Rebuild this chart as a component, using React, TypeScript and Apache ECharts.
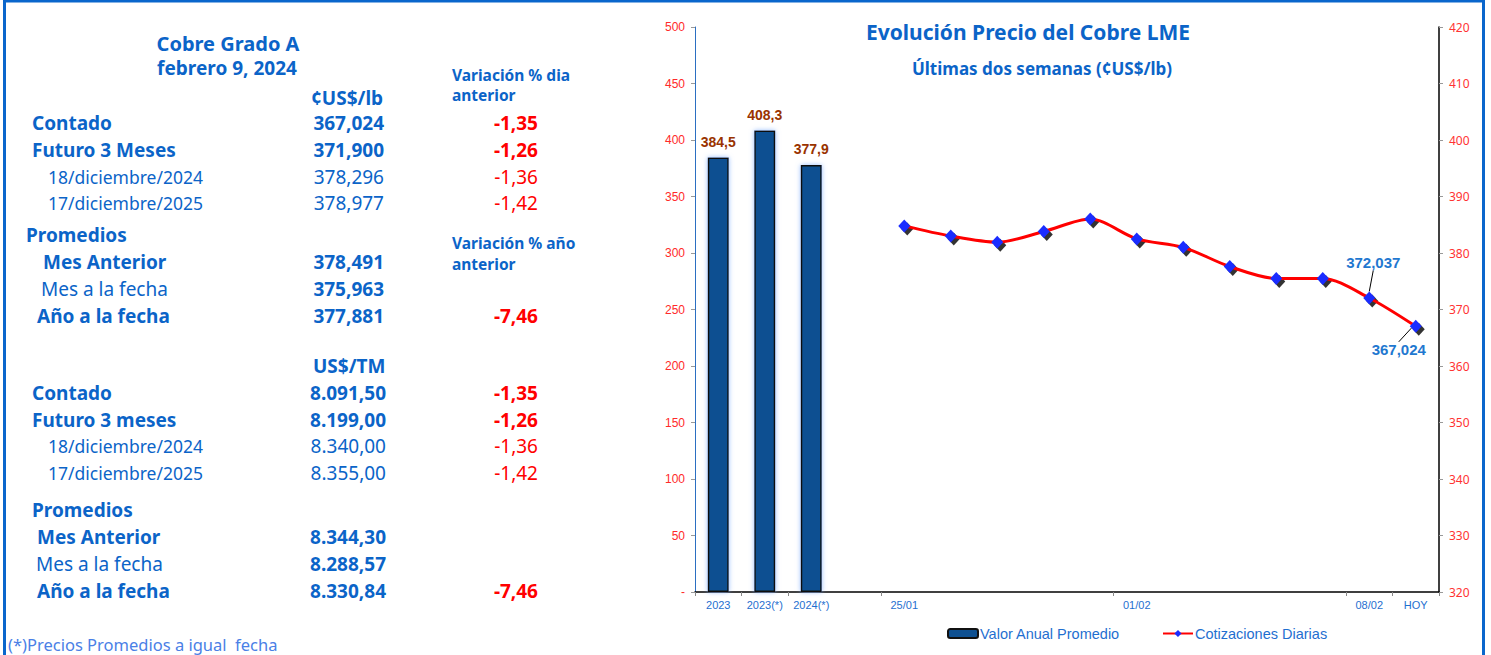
import React, { useEffect, useRef } from "react";
import * as echarts from "echarts";

// ---------- DATA ----------
const categories = ["2023", "2023(*)", "2024(*)", "", "25/01", "26/01", "29/01", "30/01", "31/01", "01/02", "02/02", "05/02", "06/02", "07/02", "08/02", "HOY"];
const shownLabelIdx = [0, 1, 2, 4, 9, 14, 15];
const annualAvg = [384.5, 408.3, 377.9];
const dailyQuotes = [384.8, 383.0, 381.9, 383.8, 386.0, 382.5, 381.0, 377.6, 375.5, 375.5, 372.037, 367.024];
const labeledPoints = [14, 15];
const leftTicks = { min: 0, max: 500, interval: 50 };
const rightTicks = { min: 320, max: 420, interval: 10 };

const headTitle = "Cobre Grado A";
const headDate = "febrero 9, 2024";
const unitLb = "¢US$/lb";
const unitTm = "US$/TM";
const varDayHeader = ["Variación % dia", "anterior"];
const varYearHeader = ["Variación % año", "anterior"];
const promediosLabel = "Promedios";

const lbLabels = ["Contado", "Futuro 3 Meses", "18/diciembre/2024", "17/diciembre/2025"];
const lbValues = ["367,024", "371,900", "378,296", "378,977"];
const lbChanges = ["-1,35", "-1,26", "-1,36", "-1,42"];
const lbAvgLabels = ["Mes Anterior", "Mes a la fecha", "Año a la fecha"];
const lbAvgValues = ["378,491", "375,963", "377,881"];
const lbAvgChanges = ["", "", "-7,46"];

const tmLabels = ["Contado", "Futuro 3 meses", "18/diciembre/2024", "17/diciembre/2025"];
const tmValues = ["8.091,50", "8.199,00", "8.340,00", "8.355,00"];
const tmChanges = ["-1,35", "-1,26", "-1,36", "-1,42"];
const tmAvgLabels = ["Mes Anterior", "Mes a la fecha", "Año a la fecha"];
const tmAvgValues = ["8.344,30", "8.288,57", "8.330,84"];
const tmAvgChanges = ["", "", "-7,46"];

const footnote = "(*)Precios Promedios a igual  fecha";
const chartTitle = "Evolución Precio del Cobre LME";
const chartSubtitle = "Últimas dos semanas (¢US$/lb)";
const seriesNames = ["Valor Anual Promedio", "Cotizaciones Diarias"];

// ---------- STYLE ----------
const BLUE = "#0b64c8";
const RED = "#ff0000";
const FF = '"Noto Sans", sans-serif';
const AR = '"Liberation Sans", Arial, sans-serif';

function txt(text: string, x: number, y: number, opts: { size?: number; bold?: boolean; color?: string; align?: string; family?: string } = {}) {
  const size = opts.size ?? 18;
  const weight = opts.bold ? "bold" : "normal";
  const align = opts.align ?? "left";
  return {
    type: "text",
    x,
    y,
    silent: true,
    style: {
      text,
      fill: opts.color ?? BLUE,
      font: `${weight} ${size}px ${opts.family ?? FF}`,
      textAlign: align,
      align,
      textVerticalAlign: "middle",
      verticalAlign: "middle",
    },
  };
}

function buildTable() {
  const g: any[] = [];
  g.push(txt(headTitle, 228, 43, { size: 20, bold: true, align: "center" }));
  g.push(txt(headDate, 227, 68, { size: 19, bold: true, align: "center" }));
  g.push(txt(unitLb, 311, 98, { size: 19, bold: true }));
  g.push(txt(varDayHeader[0], 452, 75, { size: 15.5, bold: true }));
  g.push(txt(varDayHeader[1], 452, 95, { size: 15.5, bold: true }));

  const upY = [123, 150, 177, 203];
  const upX = [32, 32, 48, 48];
  const upBold = [true, true, false, false];
  const rs = 17.5;
  lbLabels.forEach((l, i) => {
    const s = upBold[i] ? 19 : rs;
    g.push(txt(l, upX[i], upY[i], { size: s, bold: upBold[i] }));
    g.push(txt(lbValues[i], 384, upY[i], { size: 19, bold: upBold[i], align: "right" }));
    g.push(txt(lbChanges[i], 538, upY[i], { size: 19, bold: upBold[i], align: "right", color: RED }));
  });

  g.push(txt(promediosLabel, 26, 235, { size: 19, bold: true }));
  g.push(txt(varYearHeader[0], 452, 243, { size: 15.5, bold: true }));
  g.push(txt(varYearHeader[1], 452, 264, { size: 15.5, bold: true }));
  const avgY = [262, 289, 316];
  const avgX = [43, 41, 37];
  const avgBold = [true, false, true];
  lbAvgLabels.forEach((l, i) => {
    g.push(txt(l, avgX[i], avgY[i], { size: 19, bold: avgBold[i] }));
    g.push(txt(lbAvgValues[i], 384, avgY[i], { size: 19, bold: true, align: "right" }));
    if (lbAvgChanges[i]) g.push(txt(lbAvgChanges[i], 538, avgY[i], { size: 19, bold: true, align: "right", color: RED }));
  });

  g.push(txt(unitTm, 313, 366, { size: 19, bold: true }));
  const loY = [393, 420, 446, 473];
  tmLabels.forEach((l, i) => {
    const s = upBold[i] ? 19 : rs;
    g.push(txt(l, upX[i], loY[i], { size: s, bold: upBold[i] }));
    g.push(txt(tmValues[i], 386, loY[i], { size: 19, bold: upBold[i], align: "right" }));
    g.push(txt(tmChanges[i], 538, loY[i], { size: 19, bold: upBold[i], align: "right", color: RED }));
  });

  g.push(txt(promediosLabel, 32, 510, { size: 19, bold: true }));
  const lavgY = [537, 564, 591];
  const lavgX = [37, 36, 37];
  tmAvgLabels.forEach((l, i) => {
    g.push(txt(l, lavgX[i], lavgY[i], { size: 19, bold: avgBold[i] }));
    g.push(txt(tmAvgValues[i], 386, lavgY[i], { size: 19, bold: true, align: "right" }));
    if (tmAvgChanges[i]) g.push(txt(tmAvgChanges[i], 538, lavgY[i], { size: 19, bold: true, align: "right", color: RED }));
  });

  g.push(txt(footnote, 8, 644, { size: 16.5, color: "#4a80e6" }));

  g.push(txt(chartTitle, 1028, 32, { size: 21, bold: true, align: "center" }));
  g.push(txt(chartSubtitle, 1042, 68, { size: 17, bold: true, align: "center" }));

  g.push({
    type: "rect",
    silent: true,
    shape: { x: 4.5, y: 1, width: 1479, height: 700 },
    style: { fill: "none", stroke: "#0a66cc", lineWidth: 3 },
  });
  return g;
}

export default function App() {
  const ref = useRef<HTMLDivElement>(null);

  useEffect(() => {
    document.body.style.margin = "0";
    if (!ref.current) return;
    const chart = echarts.init(ref.current, null, { renderer: "svg" });

    const n = categories.length;
    const offset = n - dailyQuotes.length;
    const barData = categories.map((_, i) => (i < annualAvg.length ? annualAvg[i] : "-"));
    const lineRaw = categories.map((_, i) => (i >= offset ? dailyQuotes[i - offset] : "-"));
    const lineData = lineRaw.map((v, i) =>
      labeledPoints.includes(i)
        ? {
            value: v,
            label: {
              show: true,
              position: i === n - 1 ? "bottom" : "top",
            },
          }
        : v
    );

    chart.setOption({
      animation: false,
      backgroundColor: "#ffffff",
      graphic: buildTable(),
      legend: {
        data: seriesNames,
        left: 942,
        top: 621,
        itemWidth: 30,
        itemHeight: 9,
        itemGap: 42,
        textStyle: { color: "#1f6fd0", fontSize: 14.5, fontFamily: AR, padding: [0, 0, 0, -3] },
      },
      grid: { left: 695, right: 52, top: 27, bottom: 63, containLabel: false },
      xAxis: {
        type: "category",
        data: categories,
        boundaryGap: true,
        axisLine: { show: true, lineStyle: { color: "#000", width: 1.5 } },
        axisTick: { show: true, length: 4, lineStyle: { color: "#888" } },
        axisLabel: {
          color: "#1f6fd0",
          fontSize: 11,
          fontFamily: AR,
          margin: 7,
          interval: (idx: number) => shownLabelIdx.includes(idx),
        },
        splitLine: { show: false },
      },
      yAxis: [
        {
          type: "value",
          position: "left",
          min: leftTicks.min,
          max: leftTicks.max,
          interval: leftTicks.interval,
          axisLine: { show: true, lineStyle: { color: "#2b6fc2", width: 1 } },
          axisTick: { show: true, length: 4, lineStyle: { color: "#999" } },
          axisLabel: {
            color: "#ff2a2a",
            fontSize: 12,
            fontFamily: AR,
            margin: 10,
            formatter: (v: number) => (v === 0 ? "-" : String(v)),
          },
          splitLine: { show: false },
        },
        {
          type: "value",
          position: "right",
          min: rightTicks.min,
          max: rightTicks.max,
          interval: rightTicks.interval,
          axisLine: { show: true, lineStyle: { color: "#000", width: 1.5 } },
          axisTick: { show: true, length: 4, lineStyle: { color: "#999" } },
          axisLabel: { color: "#ff3333", fontSize: 12, fontFamily: FF, margin: 10 },
          splitLine: { show: false },
        },
      ],
      series: [
        {
          name: seriesNames[0],
          type: "bar",
          yAxisIndex: 0,
          data: barData,
          barWidth: 21,
          itemStyle: {
            color: "#0e5091",
            borderColor: "#111",
            borderWidth: 1.5,
            shadowColor: "rgba(120,170,255,0.8)",
            shadowBlur: 5,
          },
          label: {
            show: true,
            position: "top",
            distance: 9,
            color: "#993300",
            fontSize: 14,
            fontWeight: "bold",
            fontFamily: AR,
            formatter: (p: any) => Number(p.value).toFixed(1).replace(".", ","),
          },
        },
        {
          name: "shadow",
          type: "scatter",
          yAxisIndex: 1,
          data: lineRaw,
          symbol: "diamond",
          symbolSize: [12, 13],
          symbolOffset: [3, 3],
          itemStyle: { color: "#000" },
          z: 1,
          silent: true,
        },
        {
          name: seriesNames[1],
          type: "line",
          yAxisIndex: 1,
          data: lineData,
          smooth: 0.3,
          connectNulls: false,
          symbol: "diamond",
          symbolSize: [12, 13],
          showAllSymbol: true,
          lineStyle: { color: RED, width: 3 },
          itemStyle: { color: "#1a2cff" },
          z: 3,
          label: {
            show: false,
            color: "#1f78d0",
            fontSize: 15,
            fontWeight: "bold",
            fontFamily: AR,
            formatter: (p: any) => Number(p.value).toFixed(3).replace(".", ","),
          },
          labelLine: { show: true, lineStyle: { color: "#000", width: 1 } },
          labelLayout: (p: any) => {
            if (p.dataIndex === n - 2) return { dx: 4, dy: -16 };
            if (p.dataIndex === n - 1) return { dx: -17, dy: 4 };
            return {};
          },
        },
      ],
    });

    return () => chart.dispose();
  }, []);

  return <div ref={ref} style={{ width: 1491, height: 655 }} />;
}
